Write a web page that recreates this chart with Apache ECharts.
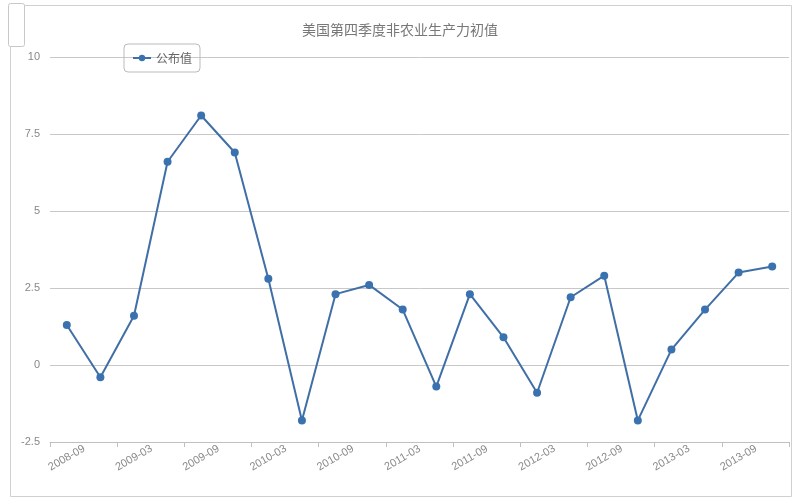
<!DOCTYPE html>
<html><head><meta charset="utf-8">
<script src="https://cdn.jsdelivr.net/npm/echarts@6/dist/echarts.min.js"></script>
<style>html,body{margin:0;padding:0;background:#fff}#c{width:800px;height:500px}</style>
</head><body><div id="c"></div>
<script>
const titleText = '美国第四季度非农业生产力初值';
const seriesName = '公布值';
const categories = ['2008-09','2008-12','2009-03','2009-06','2009-09','2009-12','2010-03','2010-06','2010-09','2010-12','2011-03','2011-06','2011-09','2011-12','2012-03','2012-06','2012-09','2012-12','2013-03','2013-06','2013-09','2013-12'];
const values = [1.3,-0.4,1.6,6.6,8.1,6.9,2.8,-1.8,2.3,2.6,1.8,-0.7,2.3,0.9,-0.9,2.2,2.9,-1.8,0.5,1.8,3.0,3.2];
const yTicks = [-2.5, 0, 2.5, 5, 7.5, 10];

const chart = echarts.init(document.getElementById('c'));
chart.setOption({
  backgroundColor: '#fff',
  animation: false,
  title: {
    text: titleText, left: 'center', top: 18,
    textStyle: {fontFamily: 'Noto Sans CJK SC', fontSize: 14, fontWeight: 'normal', color: '#777'}
  },
  legend: {
    left: 124, top: 44, padding: [8, 8, 8, 8],
    borderColor: '#bbb', borderWidth: 1, borderRadius: 4,
    itemWidth: 18, itemHeight: 8, itemGap: 4,
    textStyle: {fontFamily: 'Noto Sans CJK SC', fontSize: 12, color: '#666'},
    data: [seriesName]
  },
  grid: {left: 50, right: 11, top: 57, bottom: 58},
  xAxis: {
    type: 'category', data: categories, boundaryGap: true,
    axisLine: {onZero: false, lineStyle: {color: '#c0c0c0'}},
    axisTick: {show: true, interval: 1, length: 5, lineStyle: {color: '#c0c0c0'}},
    axisLabel: {interval: 1, rotate: 30, align: 'center', margin: 16, color: '#888', fontSize: 11, fontFamily: 'Liberation Sans'}
  },
  yAxis: {
    type: 'value', min: yTicks[0], max: yTicks[yTicks.length-1], interval: 2.5,
    axisLine: {show: false}, axisTick: {show: false},
    splitLine: {lineStyle: {color: '#c8c8c8'}},
    axisLabel: {color: '#888', fontSize: 11, fontFamily: 'Liberation Sans', margin: 10}
  },
  series: [{
    name: seriesName, type: 'line', data: values,
    symbol: 'circle', symbolSize: 8,
    lineStyle: {color: '#3f6fa6', width: 2},
    itemStyle: {color: '#3a72b0'}
  }],
  graphic: [
    {type: 'rect', shape: {x: 10.5, y: 5.5, width: 781, height: 491}, style: {fill: 'none', stroke: '#d0d0d0', lineWidth: 1}, silent: true},
    {type: 'rect', shape: {x: 8.5, y: 3.5, width: 16, height: 43, r: 2}, style: {fill: '#fff', stroke: '#c8c8c8', lineWidth: 1}, silent: true}
  ]
});
</script></body></html>
